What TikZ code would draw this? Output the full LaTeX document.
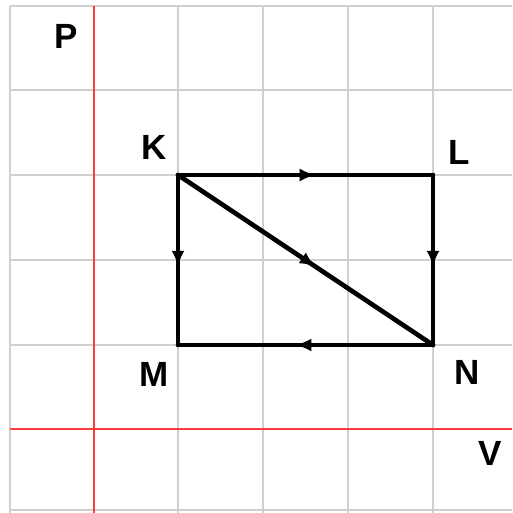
\documentclass[tikz,border=0pt]{standalone}
\usepackage{fontspec}
\setmainfont{Liberation Sans}
\usetikzlibrary{decorations.markings,arrows.meta}
\tikzset{
  gridline/.style={draw={rgb,255:red,208;green,208;blue,208}, line width=1.6pt},
  axisline/.style={draw={rgb,255:red,255;green,60;blue,60}, line width=1.6pt},
  edge/.style={line width=4.6pt, line cap=round, line join=round,
    postaction={decorate},
    decoration={markings, mark=at position 0.54 with {\arrow{Latex[length=16pt,width=13pt]}}}},
  lbl/.style={font=\bfseries\fontsize{35}{35}\selectfont, inner sep=0pt}
}
\begin{document}
\begin{tikzpicture}[x=1pt,y=-1pt]
\useasboundingbox (0,0) rectangle (512,513);
\fill[white] (0,0) rectangle (512,513);
% grid
\foreach \x in {10,178,263,348,433} \draw[gridline] (\x,6) -- (\x,513);
\foreach \y in {6,90,175,260,345,510} \draw[gridline] (10,\y) -- (512,\y);
\draw[axisline] (94,6) -- (94,513);
\draw[axisline] (10,429) -- (512,429);
% points
\coordinate (K) at (178,175);
\coordinate (L) at (433,175);
\coordinate (M) at (178,345);
\coordinate (N) at (433,345);
\draw[edge] (K) -- (L);
\draw[edge] (L) -- (N);
\draw[edge] (K) -- (N);
\draw[edge] (K) -- (M);
\draw[edge] (N) -- (M);
% labels
\node[lbl] (lP) at (66,36) {P};
\node[lbl] (lK) at (154,147) {K};
\node[lbl] (lL) at (459,152) {L};
\node[lbl] (lM) at (154,374) {M};
\node[lbl] (lN) at (467,372) {N};
\node[lbl] (lV) at (490,453) {V};
\end{tikzpicture}
\end{document}
